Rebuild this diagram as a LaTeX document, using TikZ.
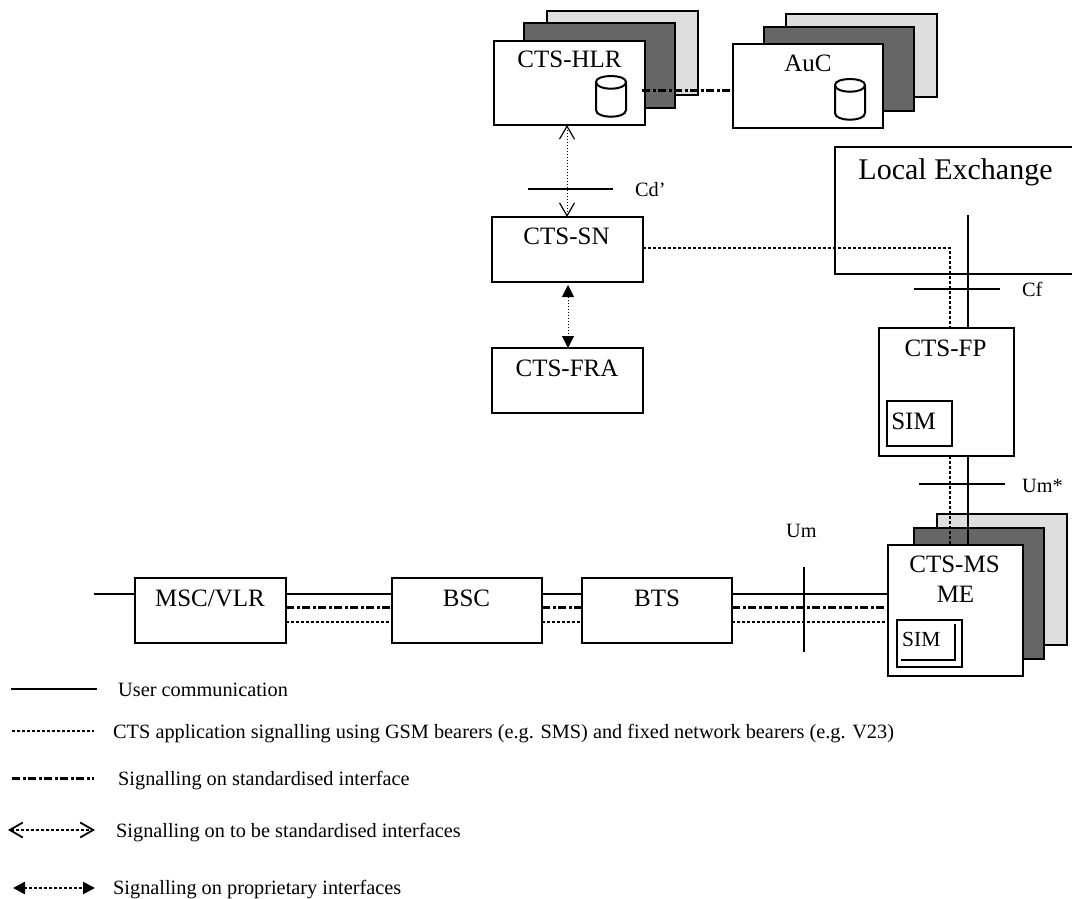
\documentclass[tikz,border=0pt]{standalone}
\usepackage{fontspec}
\setmainfont{Liberation Serif}
\usetikzlibrary{arrows.meta}
\tikzset{
  box/.style={draw=black,fill=white,line width=1.8pt,anchor=north west,inner sep=0pt,outer sep=0pt},
  backbox/.style={box,fill=black!13},
  midbox/.style={box,fill=black!60,line width=2pt},
  lbl/.style={font=\fontsize{25}{28}\selectfont,inner sep=0pt,anchor=base},
  small/.style={font=\fontsize{20.3}{24}\selectfont,inner sep=0pt,anchor=base west},
  user/.style={line width=2pt,draw=black},
  sig/.style={line width=2.6pt,dash pattern=on 3pt off 2pt,draw=black},
  std/.style={line width=3pt,dash pattern=on 8pt off 2.5pt on 3pt off 2.5pt,draw=black},
  fine/.style={line width=1pt,dash pattern=on 1.5pt off 1.5pt,draw=black},
  opentip/.style={{Straight Barb[length=13pt,width=15pt,line width=1.2pt]}-{Straight Barb[length=13pt,width=15pt,line width=1.2pt]}},
  boldopentip/.style={{Straight Barb[length=13pt,width=15pt,line width=1.8pt]}-{Straight Barb[length=13pt,width=15pt,line width=1.8pt]}},
  solidtip/.style={{Triangle[length=12pt,width=12pt]}-{Triangle[length=12pt,width=12pt]}},
  can/.style={line width=2pt,draw=black,fill=white}
}
\newcommand{\canister}[2]{%
  \draw[can] (#1-15,#2+5) -- (#1-15,#2+33) .. controls (#1-15,#2+42) and (#1+15,#2+42) .. (#1+15,#2+33) -- (#1+15,#2+5)
     .. controls (#1+15,#2-3) and (#1-15,#2-3) .. (#1-15,#2+5) -- cycle;
  \draw[can,fill=none] (#1-15,#2+5) .. controls (#1-15,#2+14) and (#1+15,#2+14) .. (#1+15,#2+5);
}
\begin{document}
\begin{tikzpicture}[x=1pt,y=-1pt]
\useasboundingbox (0,0) rectangle (1072,899);
% stacked boxes
\node[backbox,minimum width=151pt,minimum height=84pt] (hlrc) at (547,11) {};
\node[midbox,minimum width=151pt,minimum height=85pt] (hlrb) at (524,23) {};
\node[box,minimum width=151pt,minimum height=84pt] (hlr) at (494,41) {};
\node[lbl] (hlrt) at (569.5,68) {CTS-HLR};
\canister{611}{77}
\node[backbox,minimum width=151pt,minimum height=83pt] (aucc) at (786,14) {};
\node[midbox,minimum width=150pt,minimum height=84pt] (aucb) at (764,27) {};
\node[box,minimum width=150pt,minimum height=84pt] (auc) at (733,44) {};
\node[lbl] (auct) at (808,72) {AuC};
\canister{850}{80}
\coordinate (hlrs) at (642,91);
\draw[std] (hlrs) -- (auc.west |- hlrs);
% local exchange, open at the right page edge
\node[font=\fontsize{30}{34}\selectfont,inner sep=0pt,anchor=base] (le) at (955.5,179) {Local Exchange};
\draw[line width=1.8pt] (1072,147) -- (835,147) -- (835,274) -- (1072,274);
% middle column
\node[box,minimum width=151pt,minimum height=65pt] (sn) at (492,217) {};
\node[lbl] (snt) at (566.5,244) {CTS-SN};
\node[box,minimum width=151pt,minimum height=65pt] (fra) at (492,348) {};
\node[lbl] (frat) at (567,376) {CTS-FRA};
\coordinate (ha) at (567,125);
\draw[fine,opentip] (ha) -- (ha |- sn.north);
\coordinate (cda) at (528,189);
\coordinate (cdb) at (613,189);
\draw[user] (cda) -- (cdb);
\node[small] (cd) at (635,196) {Cd’};
\coordinate (sa) at (568,285);
\draw[fine,solidtip] (sa) -- (sa |- fra.north);
% fixed part
\node[box,minimum width=135pt,minimum height=128pt] (fp) at (879,328) {};
\node[lbl] (fpt) at (945.5,356) {CTS-FP};
\node[box,line width=1.6pt,minimum width=65pt,minimum height=45pt] (fsim) at (887,401) {};
\node[lbl] (fsimt) at (913.5,429) {SIM};
\coordinate (lea) at (968,215);
\coordinate (snd) at (950,248);
\draw[user] (lea) -- (lea |- fp.north);
\draw[sig] (sn.east |- snd) -- (snd) -- (snd |- fp.north);
\coordinate (cfa) at (914,289);
\coordinate (cfb) at (1000,289);
\draw[user] (cfa) -- (cfb);
\node[small] (cf) at (1022,296) {Cf};
\coordinate (uma) at (919,484);
\coordinate (umb) at (1005,484);
\draw[user] (uma) -- (umb);
\node[small] (ums) at (1022,492) {Um*};
% mobile station
\node[backbox,minimum width=130pt,minimum height=131pt] (msc3) at (937,514) {};
\node[midbox,minimum width=130pt,minimum height=131pt] (msb) at (914,528) {};
\node[box,minimum width=135pt,minimum height=131pt] (ms) at (888,545) {};
\draw[user] (lea |- fp.south) -- (lea |- ms.north);
\draw[sig] (snd |- fp.south) -- (snd |- ms.north);
\node[lbl] (mst) at (954.5,572) {CTS-MS};
\node[lbl] (mst2) at (955.5,602) {ME};
\node[box,line width=1.6pt,minimum width=65pt,minimum height=47pt] (msim) at (897,620) {};
\draw[line width=1.4pt] (955,624) -- (955,660) -- (901,660);
\node[small,font=\fontsize{21.5}{24}\selectfont] (msimt) at (902,646) {SIM};
% bottom chain
\node[box,minimum width=151pt,minimum height=65pt] (msc) at (135,578) {};
\node[lbl] (msct) at (210,606) {MSC/VLR};
\node[box,minimum width=150pt,minimum height=65pt] (bsc) at (392,578) {};
\node[lbl] (bsct) at (466.5,606) {BSC};
\node[box,minimum width=150pt,minimum height=65pt] (bts) at (582,578) {};
\node[lbl] (btst) at (657,606) {BTS};
\coordinate (ra) at (0,594);
\coordinate (rb) at (0,607);
\coordinate (rc) at (0,622);
\coordinate (mscin) at (94,594);
\draw[user] (mscin) -- (msc.west |- ra);
\foreach \l/\r in {msc/bsc,bsc/bts,bts/ms}{
  \draw[user] (\l.east |- ra) -- (\r.west |- ra);
  \draw[std] (\l.east |- rb) -- (\r.west |- rb);
  \draw[sig] (\l.east |- rc) -- (\r.west |- rc);
}
\coordinate (uta) at (804,567);
\coordinate (utb) at (804,652);
\draw[user] (uta) -- (utb);
\node[small] (um) at (786,537) {Um};
% legend
\coordinate (l1a) at (11,689); \coordinate (l1b) at (97,689);
\draw[user] (l1a) -- (l1b);
\node[small] (t1) at (118,696) {User communication};
\coordinate (l2a) at (12,731); \coordinate (l2b) at (94,731);
\draw[sig] (l2a) -- (l2b);
\node[small] (t2) at (113,738) {CTS application signalling using GSM bearers (e.g. SMS) and fixed network bearers (e.g. V23)};
\coordinate (l3a) at (12,778); \coordinate (l3b) at (94,778);
\draw[std] (l3a) -- (l3b);
\node[small] (t3) at (118,785) {Signalling on standardised interface};
\coordinate (l4a) at (8,830); \coordinate (l4b) at (95,830);
\draw[sig,boldopentip] (l4a) -- (l4b);
\node[small] (t4) at (116,837) {Signalling on to be standardised interfaces};
\coordinate (l5a) at (13,888); \coordinate (l5b) at (95,888);
\draw[sig,solidtip] (l5a) -- (l5b);
\node[small] (t5) at (113,894) {Signalling on proprietary interfaces};
\end{tikzpicture}
\end{document}
